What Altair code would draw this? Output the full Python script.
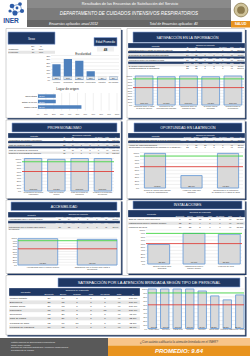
import altair as alt
import pandas as pd

FONT = "Liberation Sans"
NAVY = "#1f3864"
EDGE = "#8ea9db"
GRID = "#d9d9d9"
BLUE = "#4f81bd"
BAR_FILL = "#d9d9d9"
BAR_EDGE = "#6f9fd8"
GREEN = "#33d633"
RED = "#e0302a"
ORANGE = "#e8931e"
DARK = "#262626"

# ---------------- data ----------------
TITULO_1 = "Resultados de las Encuestas de Satisfacción del Servicio"
TITULO_2 = "DEPARTAMENTO DE CUIDADOS INTENSIVOS RESPIRATORIOS"
ANIO = 2012
TOTAL_ENCUESTAS = 40
PROMEDIO = 9.64
EDAD_PROMEDIO = 48

sexo = ["Masculino", "Femenino"]
sexo_n = [24, 16]
sexo_pct = ["60%", "40%"]

escolaridad = ["Primaria", "Secundaria", "Bachillerato", "Licenciatura", "Maestría", "Sin estudios"]
escolaridad_pct = [0.225, 0.30, 0.275, 0.125, 0.025, 0.05]
esc_ticks = [0, 0.05, 0.10, 0.15, 0.20, 0.25, 0.30, 0.35]

origen = ["Otros estados", "Estado de México", "Distrito Federal"]
origen_pct = [0.225, 0.225, 0.55]

pct_ticks = [0, 0.1, 0.2, 0.3, 0.4, 0.5, 0.6, 0.7, 0.8, 0.9, 1.0]
META = 0.9
MINIMO = 0.6

OPT_SN = ["Sí", "No", "", "", "No aplica"]
OPT_EB = ["Excelente", "Bueno", "Regular", "Malo", "No aplica"]
COLS_EXTRA = ["Total", "%"]

info_q = ["Información sobre el estado\nde salud del paciente",
          "Explicación de los\nprocedimientos realizados",
          "Información sobre los\ncuidados en casa",
          "El médico resolvió\nsus dudas",
          "Confidencialidad de\nla información"]
info_v = [1.0, 0.975, 1.0, 0.975, 1.0]
info_counts = [[40, 0, None, None, 0], [24, 15, 1, 0, 0], [27, 13, 0, 0, 0],
               [22, 17, 1, 0, 0], [28, 12, 0, 0, 0]]
info_sections = [(OPT_SN, [0]), (OPT_EB, [1]), (OPT_EB, [2]), (OPT_EB, [3, 4])]

prof_q = ["Presentación del médico\nresponsable",
          "Trato del personal\nmédico",
          "Trato del personal de\nenfermería",
          "Respeto a la privacidad\ndel paciente"]
prof_v = [1.0, 0.975, 1.0, 1.0]
prof_counts = [[40, 0, None, None, 0], [25, 14, 1, 0, 0], [30, 10, 0, 0, 0], [31, 9, 0, 0, 0]]
prof_sections = [(OPT_SN, [0]), (OPT_EB, [1]), (OPT_EB, [2, 3])]

oport_q = ["Tiempo de espera para ingresar\nal área de hospitalización",
           "Horario de visita para\nfamiliares",
           "Oportunidad en la notificación\nde cambios en el estado de salud"]
oport_v = [0.975, 0.35, 0.975]
oport_counts = [[20, 19, 1, 0, 0], [4, 10, 18, 8, 0], [22, 17, 1, 0, 0]]
oport_sections = [(OPT_EB, [0]), (OPT_EB, [1, 2])]

acces_q = ["Accesibilidad para el informe médico",
           "Satisfacción con el tiempo para visitar a\nsu paciente"]
acces_v = [0.975, 0.95]
acces_counts = [[25, 14, 1, 0, 0], [20, 18, 2, 0, 0]]
acces_sections = [(OPT_EB, [0]), (OPT_EB, [1])]

instal_q = ["Sala de espera para\nfamiliares", "Instalaciones para el\ninforme médico", "Limpieza del área"]
instal_v = [0.575, 0.90, 0.875]
instal_counts = [[6, 17, 15, 2, 0], [12, 24, 4, 0, 0], [10, 25, 5, 0, 0]]
instal_sections = [(OPT_EB, [0, 1, 2])]

personal = ["Médico tratante", "Enfermería", "Trabajo social", "Psicología", "Recepción",
            "Caja de pagos", "Personal de aseo", "Personal de vigilancia"]
personal_v = [1.0, 1.0, 1.0, 1.0, 0.95, 0.825, 0.725, 0.85]
personal_counts = [[26, 14, 0, 0, 0], [25, 15, 0, 0, 0], [27, 13, 0, 0, 0], [15, 10, 0, 0, 15],
                   [18, 20, 2, 0, 0], [12, 21, 7, 0, 0], [12, 17, 10, 1, 0], [16, 18, 6, 0, 0]]
personal_sections = [(OPT_EB, [0, 1, 2, 3, 4, 5, 6, 7])]

pie_lineas = ["Instituto Nacional de Enfermedades Respiratorias",
              "Ismael Cosío Villegas",
              "Dirección de Planeación Estratégica y Desarrollo Organizacional",
              "Departamento de Calidad"]
pregunta_final = "¿Con cuánto calificaría la atención brindada en el INER?"

# ---------------- helpers ----------------
layers = []
ONE = pd.DataFrame({"k": [0]})


def box(x, x2, y, y2, fill, stroke=None, sw=0.5, opacity=1.0):
    kw = {"fill": fill, "opacity": opacity}
    if stroke is not None:
        kw["stroke"] = stroke
        kw["strokeWidth"] = sw
    layers.append(alt.Chart(ONE).mark_rect(**kw).encode(
        x=alt.value(x), x2=alt.value(x2), y=alt.value(y), y2=alt.value(y2)))


def label(x, y, s, size, color="white", align="center", weight="normal", style="normal", baseline="middle"):
    layers.append(alt.Chart(ONE).mark_text(
        text=s, fontSize=size, color=color, align=align, fontWeight=weight,
        fontStyle=style, baseline=baseline, font=FONT).encode(x=alt.value(x), y=alt.value(y)))


def panel(x, x2, y, y2):
    box(x + 1.5, x2 + 1.5, y + 1.5, y2 + 1.5, NAVY)
    box(x, x2, y, y2, "white", stroke="#a6a6a6", sw=0.5)


def banner(x, x2, y, y2, title, size):
    box(x, x2, y, y2, NAVY, stroke=EDGE, sw=0.6)
    label((x + x2) / 2, (y + y2) / 2 + 0.3, title, size, "white")


def pct_txt(v):
    return f"{v * 100:.1f}%"


def table(x0, xs, x1, y0, y1, labels, counts, vals, sections, fs):
    bgs, htxt, rtxt, ltxt = [], [], [], []
    bgs.append({"r": 0, "r2": 2, "kind": "H"})
    r = 2
    stripe = 0
    for si, (opts, idxs) in enumerate(sections):
        hdr = opts + COLS_EXTRA
        if si == 0:
            for j, o in enumerate(hdr):
                htxt.append({"r": 1.5, "c": j, "t": o})
        else:
            bgs.append({"r": r, "r2": r + 1, "kind": "H"})
            for j, o in enumerate(hdr):
                htxt.append({"r": r + 0.5, "c": j, "t": o})
            r += 1
        for i in idxs:
            n = labels[i].count("\n") + 1
            bgs.append({"r": r, "r2": r + n, "kind": "R%d" % (stripe % 2)})
            ltxt.append({"r": r + n / 2, "t": labels[i]})
            cells = ["" if v is None else str(v) for v in counts[i]]
            cells += [str(sum(v for v in counts[i] if v is not None)), pct_txt(vals[i])]
            for j, v in enumerate(cells):
                rtxt.append({"r": r + n / 2, "c": j, "t": v})
            r += n
            stripe += 1
    ncol = 5 + len(COLS_EXTRA)
    colw = (x1 - xs) / ncol
    ysc = alt.Scale(domain=[0, r], range=[y0, y1], nice=False, zero=False)
    xsc = alt.Scale(domain=[-0.5, ncol - 0.5], range=[xs, x1], nice=False, zero=False)
    Y = alt.Y("r:Q", scale=ysc, axis=None)
    X = alt.X("c:Q", scale=xsc, axis=None)
    layers.append(alt.Chart(pd.DataFrame(bgs)).mark_rect(stroke="white", strokeWidth=0.3).encode(
        x=alt.value(x0), x2=alt.value(x1), y=Y, y2="r2:Q",
        color=alt.Color("kind:N", scale=alt.Scale(domain=["H", "R0", "R1"],
                                                  range=[NAVY, "#ffffff", "#e6e6e6"]), legend=None)))
    layers.append(alt.Chart(pd.DataFrame(htxt)).mark_text(
        fontSize=fs * 0.85, color="white", font=FONT, baseline="middle", limit=colw + 1).encode(
        x=X, y=Y, text="t:N"))
    layers.append(alt.Chart(pd.DataFrame([{"r": 0.5, "c": 2, "t": "Opciones de respuesta"}])).mark_text(
        fontSize=fs * 0.9, color="white", font=FONT, baseline="middle").encode(x=X, y=Y, text="t:N"))
    layers.append(alt.Chart(pd.DataFrame([{"r": 1.0, "t": "Pregunta"}])).mark_text(
        fontSize=fs * 0.95, color="white", font=FONT, baseline="middle").encode(
        x=alt.value((x0 + xs) / 2), y=Y, text="t:N"))
    layers.append(alt.Chart(pd.DataFrame(ltxt)).mark_text(
        fontSize=fs, color=DARK, font=FONT, align="left", baseline="middle",
        limit=xs - x0 - 1.2, lineBreak="\n", lineHeight=fs * 1.1).encode(
        x=alt.value(x0 + 0.8), y=Y, text="t:N"))
    layers.append(alt.Chart(pd.DataFrame(rtxt)).mark_text(
        fontSize=fs, color=DARK, font=FONT, baseline="middle").encode(x=X, y=Y, text="t:N"))


def sat_chart(qs, vals, x0, x1, ytop, ybot, pin, pout, lab_fs, tick_fs=2.2, val_fs=2.3):
    df = pd.DataFrame({"q": qs, "v": vals})
    xsc = alt.Scale(domain=qs, range=[x0, x1], paddingInner=pin, paddingOuter=pout)
    ysc = alt.Scale(domain=[0, 1], range=[ybot, ytop], nice=False)
    tk = pd.DataFrame({"t": pct_ticks})
    X = alt.X("q:N", scale=xsc, axis=None)
    layers.append(alt.Chart(tk).mark_rule(color=GRID, strokeWidth=0.4).encode(
        y=alt.Y("t:Q", scale=ysc, axis=None), x=alt.value(x0), x2=alt.value(x1)))
    layers.append(alt.Chart(tk).mark_text(
        fontSize=tick_fs, align="right", baseline="middle", color="#404040", font=FONT).encode(
        y=alt.Y("t:Q", scale=ysc, axis=None), x=alt.value(x0 - 0.8),
        text=alt.Text("t:Q", format=".0%")))
    layers.append(alt.Chart(df).mark_bar(fill=BAR_FILL, stroke=BAR_EDGE, strokeWidth=0.9).encode(
        x=X, y=alt.Y("v:Q", scale=ysc, axis=None)))
    thr = pd.DataFrame({"t": [META, MINIMO], "c": ["meta", "minimo"]})
    layers.append(alt.Chart(thr).mark_rule(strokeWidth=0.8).encode(
        y=alt.Y("t:Q", scale=ysc, axis=None), x=alt.value(x0), x2=alt.value(x1),
        color=alt.Color("c:N", scale=alt.Scale(domain=["meta", "minimo"], range=[GREEN, RED]),
                        legend=None)))
    layers.append(alt.Chart(df).mark_text(
        fontSize=val_fs, baseline="bottom", color=DARK, font=FONT).encode(
        x=X, y=alt.value(ybot - 1.0), text=alt.Text("v:Q", format=".1%")))
    layers.append(alt.Chart(df).mark_text(
        fontSize=lab_fs, baseline="top", color="#404040", font=FONT, lineBreak="\n",
        lineHeight=lab_fs * 1.15).encode(x=X, y=alt.value(ybot + 1.2), text="q:N"))


def flat(qs):
    return [q.replace("\n", " ") for q in qs]


# ---------------- header ----------------
box(0, 250, 0, 356, "white")
box(27, 231, 0, 8, "#8a8a8a")
box(27, 231, 8, 20, "#7b7b7b")
box(27, 231, 20, 27, "#666666")
label(130, 4.2, TITULO_1, 3.8, "white")
label(129, 14, TITULO_2, 4.6, "white", style="italic")
label(73.5, 23.8, f"Encuestas aplicadas anual {ANIO}", 3.4, "white", style="italic")
label(173.5, 23.8, f"Total de Encuestas aplicadas: {TOTAL_ENCUESTAS}", 3.3, "white", style="italic")

# INER logo (decorative molecule)
for (x1_, y1_, x2_, y2_) in [(12, 6, 20, 4), (20, 4, 22, 11), (22, 11, 15, 13), (15, 13, 10, 11), (12, 6, 15, 13)]:
    layers.append(alt.Chart(ONE).mark_rule(color="#6f94c8", strokeWidth=0.8).encode(
        x=alt.value(x1_), x2=alt.value(x2_), y=alt.value(y1_), y2=alt.value(y2_)))
for (cx, cy, s) in [(12, 6, 22), (20, 4, 14), (22, 11, 18), (15, 13, 26), (10, 11, 10), (17, 8, 8)]:
    layers.append(alt.Chart(ONE).mark_circle(size=s, color="#2f5da8", opacity=1).encode(
        x=alt.value(cx), y=alt.value(cy)))
label(11, 20.8, "INER", 6.6, "#1f4e9a", weight="bold")

# emblem + SALUD
layers.append(alt.Chart(ONE).mark_circle(size=190, color="#cfc39a", stroke="#8c7b4f", strokeWidth=0.8,
                                         opacity=1).encode(x=alt.value(241), y=alt.value(10)))
layers.append(alt.Chart(ONE).mark_circle(size=60, color="#8c7b4f", opacity=1).encode(
    x=alt.value(241), y=alt.value(10)))
box(231, 250, 21, 27.5, ORANGE)
label(240.5, 24.4, "SALUD", 3.4, "white", weight="bold")

# ---------------- panels ----------------
panel(6, 121, 28.5, 118)
panel(127, 245, 28.5, 118)
panel(6, 121, 120, 198.5)
panel(127, 245, 120, 198.5)
panel(6, 121, 200, 273.5)
panel(127, 245, 200, 273.5)
panel(6, 245, 275.5, 335)

# ---------------- top-left: demographics ----------------
banner(8, 55, 32, 44.3, "Sexo", 3.0)
sx_y = alt.Scale(domain=[0, 3], range=[44.5, 53.8], nice=False, zero=False)
sx_x = alt.Scale(domain=[-0.5, 1.5], range=[29, 45], nice=False, zero=False)
sx_rows = pd.DataFrame({"r": [1, 2], "r2": [2, 3], "rm": [1.5, 2.5], "lab": sexo})
layers.append(alt.Chart(sx_rows).transform_filter(alt.datum.r == 2).mark_rect(fill="#e6e6e6").encode(
    x=alt.value(8), x2=alt.value(55), y=alt.Y("r:Q", scale=sx_y, axis=None), y2="r2:Q"))
layers.append(alt.Chart(sx_rows).mark_text(fontSize=2.2, align="left", baseline="middle", color=DARK,
                                           font=FONT).encode(
    x=alt.value(8.6), y=alt.Y("rm:Q", scale=sx_y, axis=None), text="lab:N"))
sx_cells = []
for i in range(len(sexo)):
    sx_cells.append({"rm": i + 1.5, "c": 0, "t": str(sexo_n[i])})
    sx_cells.append({"rm": i + 1.5, "c": 1, "t": sexo_pct[i]})
sx_cells.append({"rm": 0.5, "c": 0, "t": "No."})
sx_cells.append({"rm": 0.5, "c": 1, "t": "%"})
layers.append(alt.Chart(pd.DataFrame(sx_cells)).mark_text(fontSize=2.2, baseline="middle", color=DARK,
                                                           font=FONT).encode(
    x=alt.X("c:Q", scale=sx_x, axis=None), y=alt.Y("rm:Q", scale=sx_y, axis=None), text="t:N"))

box(94, 117, 37.5, 46, NAVY, stroke=EDGE, sw=0.6)
label(105.5, 41.9, "Edad Promedio", 2.8, "white")
box(97, 114, 47, 51.5, "#f0f0f0")
label(105.5, 49.4, str(EDAD_PROMEDIO), 3.2, DARK, weight="bold")

# escolaridad
label(83, 53.6, "Escolaridad", 3.0, DARK)
esc_df = pd.DataFrame({"q": escolaridad, "v": escolaridad_pct})
esc_x = alt.Scale(domain=escolaridad, range=[51, 119], paddingInner=0.28, paddingOuter=0.12)
esc_y = alt.Scale(domain=[0, 0.35], range=[80, 55.5], nice=False)
etk = pd.DataFrame({"t": esc_ticks})
EX = alt.X("q:N", scale=esc_x, axis=None)
layers.append(alt.Chart(etk).mark_rule(color=GRID, strokeWidth=0.4).encode(
    y=alt.Y("t:Q", scale=esc_y, axis=None), x=alt.value(51), x2=alt.value(119)))
layers.append(alt.Chart(etk).mark_text(fontSize=1.9, align="right", baseline="middle", color="#404040",
                                       font=FONT).encode(
    y=alt.Y("t:Q", scale=esc_y, axis=None), x=alt.value(50.2), text=alt.Text("t:Q", format=".0%")))
layers.append(alt.Chart(esc_df).mark_bar(fill=BLUE).encode(x=EX, y=alt.Y("v:Q", scale=esc_y, axis=None)))
layers.append(alt.Chart(esc_df).mark_rect(fill="#f2f2f2", opacity=0.9, stroke="#bfbfbf",
                                          strokeWidth=0.2).encode(
    x=EX, y=alt.value(76.6), y2=alt.value(79.4)))
layers.append(alt.Chart(esc_df).mark_text(fontSize=1.9, baseline="middle", color=DARK, font=FONT).encode(
    x=EX, y=alt.value(78.0), text=alt.Text("v:Q", format=".0%")))
layers.append(alt.Chart(esc_df).mark_text(fontSize=1.8, baseline="top", color="#404040", font=FONT).encode(
    x=EX, y=alt.value(81.4), text="q:N"))

# lugar de origen
label(67.5, 88.8, "Lugar de origen", 3.2, DARK)
org_df = pd.DataFrame({"q": origen, "v": origen_pct})
org_y = alt.Scale(domain=origen, range=[93.5, 109.5], paddingInner=0.35, paddingOuter=0.15)
org_x = alt.Scale(domain=[0, 1], range=[38, 117], nice=False)
OY = alt.Y("q:N", scale=org_y, axis=None)
otk = pd.DataFrame({"t": pct_ticks})
layers.append(alt.Chart(otk).mark_rule(color=GRID, strokeWidth=0.4).encode(
    x=alt.X("t:Q", scale=org_x, axis=None), y=alt.value(93), y2=alt.value(110.5)))
layers.append(alt.Chart(otk).mark_text(fontSize=1.8, baseline="middle", color="#404040", font=FONT).encode(
    x=alt.X("t:Q", scale=org_x, axis=None), y=alt.value(113.5), text=alt.Text("t:Q", format=".0%")))
layers.append(alt.Chart(org_df).mark_bar(fill=BLUE).encode(y=OY, x=alt.X("v:Q", scale=org_x, axis=None)))
layers.append(alt.Chart(org_df).mark_text(fontSize=1.9, align="right", baseline="middle", color=DARK,
                                          font=FONT).encode(y=OY, x=alt.value(37), text="q:N"))
layers.append(alt.Chart(org_df).mark_text(fontSize=1.9, align="left", baseline="middle", color="white",
                                          font=FONT).encode(
    y=OY, x=alt.value(39.3), text=alt.Text("v:Q", format=".1%")))

# ---------------- Satisfacción en la información ----------------
banner(133, 242, 32, 42.5, "SATISFACCIÓN EN LA INFORMACIÓN", 3.5)
table(128, 183, 245, 43, 69.5, flat(info_q), info_counts, info_v, info_sections, 2.0)
sat_chart(info_q, info_v, 133, 244, 76, 105, 0.2, 0.1, 1.7)

# ---------------- Profesionalismo ----------------
banner(12, 117, 123, 132, "PROFESIONALISMO", 3.5)
table(8, 60, 120, 133, 154, flat(prof_q), prof_counts, prof_v, prof_sections, 2.0)
sat_chart(prof_q, prof_v, 22, 114, 158.5, 191, 0.25, 0.1, 1.8)

# ---------------- Oportunidad en la atención ----------------
banner(134, 242, 123, 132, "OPORTUNIDAD EN LA ATENCIÓN", 3.5)
table(128, 183, 245, 133, 148.5, flat(oport_q), oport_counts, oport_v, oport_sections, 2.0)
sat_chart(oport_q, oport_v, 140, 243, 152.5, 188, 0.42, 0.12, 1.9)

# ---------------- Accesibilidad ----------------
banner(11, 117, 202, 210.5, "ACCESIBILIDAD", 3.5)
table(8, 55, 120, 212, 229.5, acces_q, acces_counts, acces_v, acces_sections, 2.1)
sat_chart(acces_q, acces_v, 18, 117, 238, 265, 0.33, 0.0, 2.0)

# ---------------- Instalaciones ----------------
banner(133, 242, 201, 209, "INSTALACIONES", 3.5)
table(128, 175, 245, 210, 229, flat(instal_q), instal_counts, instal_v, instal_sections, 2.3)
sat_chart(instal_q, instal_v, 146, 242, 230, 264, 0.38, 0.05, 2.0)

# ---------------- Tipo de personal ----------------
banner(58, 240, 278, 287, "SATISFACCIÓN POR LA ATENCIÓN BRINDADA SEGÚN TIPO DE PERSONAL", 4.0)
table(9, 42, 140, 288, 329, personal, personal_counts, personal_v, personal_sections, 2.5)
sat_chart(personal, personal_v, 148, 244, 289, 328.5, 0.33, 0.0, 1.5, tick_fs=2.0, val_fs=1.9)

# ---------------- footer ----------------
box(0, 108, 338, 356, "#595959")
for i, t in enumerate(pie_lineas):
    label(11, 341.6 + i * 2.8, t, 2.0, "#e0e0e0", align="left")
box(108, 250, 338, 345.5, "#f8c58a")
box(108, 250, 345.5, 356, ORANGE)
label(179, 342, pregunta_final, 3.1, "#404040", style="italic")
label(179, 351, f"PROMEDIO:  {PROMEDIO}", 6.0, "white", weight="bold", style="italic")

chart = alt.layer(*layers).resolve_scale(
    x="independent", y="independent", color="independent"
).properties(
    width=250, height=356, padding=0, background="white",
    autosize=alt.AutoSizeParams(type="none"),
).configure_view(strokeOpacity=0)

chart.save("out.html", embed_options={"renderer": "svg", "actions": False})
